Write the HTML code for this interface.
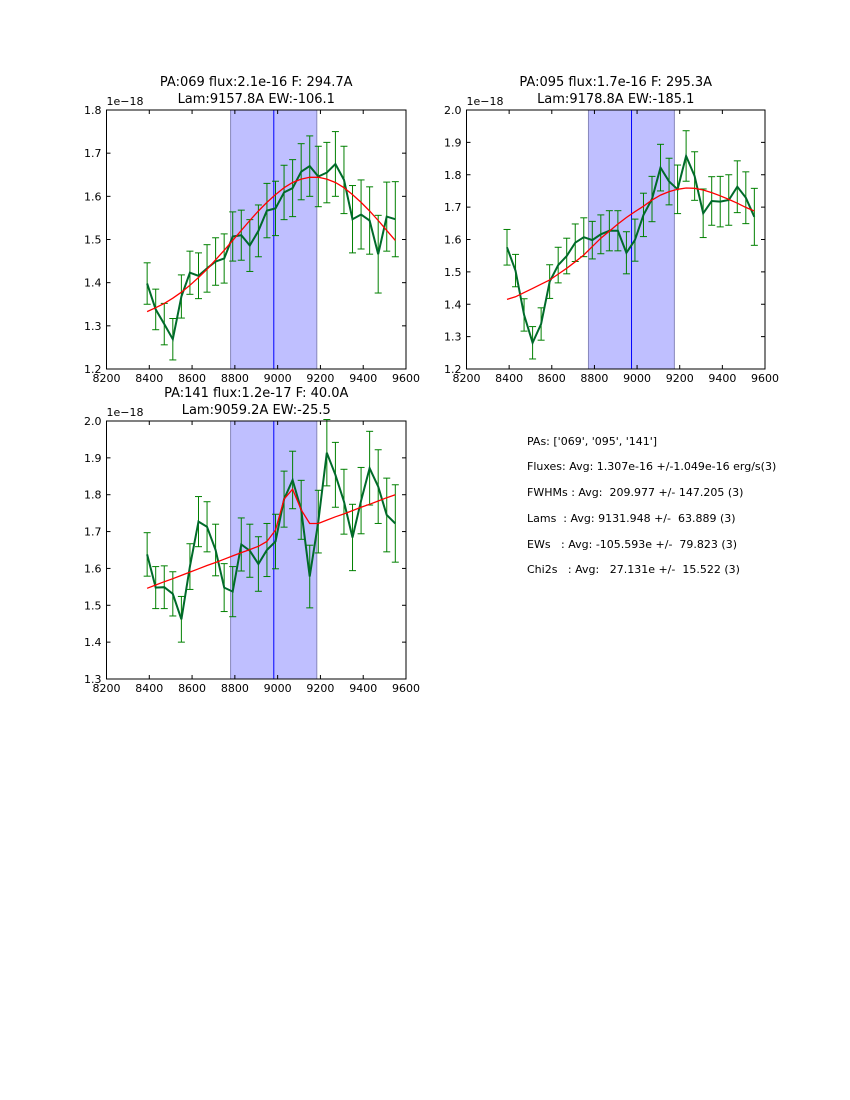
<!DOCTYPE html>
<html><head><meta charset="utf-8"><style>
body{margin:0;background:#fff;}
svg{display:block;font-family:"DejaVu Sans","Liberation Sans",sans-serif;}
.info{font-size:11px;fill:#000;white-space:pre;}
</style></head><body>
<svg id="fig" width="850" height="1100" xmlns="http://www.w3.org/2000/svg">
<rect width="850" height="1100" fill="#fff"/>
<g>
<text class="info" x="527" y="445" xml:space="preserve">PAs: ['069', '095', '141']</text>
<text class="info" x="527" y="470" xml:space="preserve">Fluxes: Avg: 1.307e-16 +/-1.049e-16 erg/s(3)</text>
<text class="info" x="527" y="496" xml:space="preserve">FWHMs : Avg:  209.977 +/- 147.205 (3)</text>
<text class="info" x="527" y="522" xml:space="preserve">Lams  : Avg: 9131.948 +/-  63.889 (3)</text>
<text class="info" x="527" y="548" xml:space="preserve">EWs   : Avg: -105.593e +/-  79.823 (3)</text>
<text class="info" x="527" y="573" xml:space="preserve">Chi2s   : Avg:   27.131e +/-  15.522 (3)</text>
</g>
</svg>
<script>
const xStart = 8390, xStep = 40;
const flux1 = [1.398,1.338,1.304,1.269,1.368,1.423,1.416,1.433,1.449,1.456,1.507,1.510,1.486,1.520,1.567,1.572,1.609,1.619,1.657,1.670,1.646,1.655,1.675,1.638,1.547,1.558,1.544,1.466,1.553,1.547];
const err1 = [0.048,0.047,0.048,0.048,0.05,0.05,0.053,0.055,0.055,0.057,0.057,0.058,0.06,0.06,0.063,0.063,0.063,0.066,0.065,0.07,0.07,0.07,0.075,0.078,0.078,0.08,0.078,0.09,0.08,0.087];
const fit1 = [1.333,1.342,1.352,1.364,1.378,1.394,1.412,1.431,1.453,1.475,1.498,1.521,1.544,1.566,1.586,1.604,1.620,1.632,1.640,1.644,1.644,1.640,1.632,1.620,1.604,1.586,1.566,1.544,1.521,1.498];
const flux2 = [1.576,1.504,1.367,1.281,1.339,1.470,1.521,1.549,1.590,1.607,1.598,1.616,1.627,1.627,1.559,1.598,1.676,1.725,1.822,1.779,1.755,1.858,1.796,1.681,1.719,1.717,1.722,1.763,1.729,1.670];
const err2 = [0.055,0.05,0.05,0.05,0.05,0.052,0.055,0.055,0.058,0.06,0.058,0.06,0.062,0.062,0.065,0.065,0.067,0.07,0.072,0.072,0.075,0.078,0.075,0.075,0.075,0.078,0.078,0.08,0.08,0.088];
const fit2 = [1.415,1.423,1.436,1.449,1.462,1.475,1.493,1.511,1.531,1.552,1.578,1.604,1.626,1.648,1.668,1.686,1.703,1.722,1.737,1.748,1.755,1.759,1.758,1.753,1.745,1.735,1.724,1.712,1.699,1.688];
const flux3 = [1.638,1.548,1.549,1.531,1.462,1.605,1.727,1.713,1.650,1.548,1.537,1.665,1.648,1.612,1.650,1.673,1.788,1.840,1.759,1.578,1.727,1.914,1.854,1.781,1.684,1.784,1.872,1.822,1.745,1.722];
const err3 = [0.059,0.057,0.058,0.06,0.062,0.062,0.068,0.068,0.07,0.065,0.068,0.072,0.072,0.074,0.072,0.074,0.076,0.078,0.08,0.085,0.085,0.09,0.088,0.088,0.09,0.09,0.1,0.1,0.1,0.105];
const fit3 = [1.546,1.555,1.564,1.572,1.581,1.590,1.599,1.608,1.616,1.625,1.634,1.643,1.651,1.660,1.673,1.704,1.788,1.815,1.759,1.722,1.722,1.731,1.740,1.748,1.757,1.766,1.774,1.783,1.792,1.800];
const xTicks = [8200,8400,8600,8800,9000,9200,9400,9600];
const yTicks1 = [1.2,1.3,1.4,1.5,1.6,1.7,1.8];
const yTicks2 = [1.2,1.3,1.4,1.5,1.6,1.7,1.8,1.9,2.0];
const yTicks3 = [1.3,1.4,1.5,1.6,1.7,1.8,1.9,2.0];
const spans = [[8780,9183,8982],[8772,9175,8974],[8780,9183,8982]];
const titles = [["PA:069 flux:2.1e-16 F: 294.7A","Lam:9157.8A EW:-106.1"],["PA:095 flux:1.7e-16 F: 295.3A","Lam:9178.8A EW:-185.1"],["PA:141 flux:1.2e-17 F: 40.0A","Lam:9059.2A EW:-25.5"]];

const NS="http://www.w3.org/2000/svg";
const svg=document.getElementById('fig');
function mk(tag,attrs,parent){const e=document.createElementNS(NS,tag);for(const k in attrs)e.setAttribute(k,attrs[k]);parent.appendChild(e);return e;}

function panel(idx,box,yMin,yMax,yTicks,flux,err,fit){
  const [L,T,R,B]=box;
  const g=mk('g',{},svg);
  
  
  const xs=v=>L+(v-8200)/1400*(R-L);
  const ys=v=>B-(v-yMin)/(yMax-yMin)*(B-T);
  const sp=spans[idx];
  const band=mk('rect',{x:xs(sp[0]),y:T,width:xs(sp[1])-xs(sp[0]),height:B-T,fill:'#bfbfff',stroke:'#8888bb','stroke-width':1},g);
  
  
  const cl=mk('line',{x1:xs(sp[2]),x2:xs(sp[2]),y1:T,y2:B,stroke:'#0000ff','stroke-width':1},g);
  
  
  const eg=mk('g',{stroke:'#008000','stroke-width':1},g);
  
  
  flux.forEach((v,i)=>{const x=xs(xStart+i*xStep);const y1=ys(v-err[i]),y2=ys(v+err[i]);
    mk('line',{x1:x,x2:x,y1:y1,y2:y2},eg);mk('line',{x1:x-3.5,x2:x+3.5,y1:y1,y2:y1},eg);mk('line',{x1:x-3.5,x2:x+3.5,y1:y2,y2:y2},eg);});
  const dp=flux.map((v,i)=>xs(xStart+i*xStep).toFixed(1)+','+ys(v).toFixed(1)).join(' ');
  const dl=mk('polyline',{points:dp,fill:'none',stroke:'#006a2a','stroke-width':2},g);
  
  
  const fp=fit.map((v,i)=>xs(xStart+i*xStep).toFixed(1)+','+ys(v).toFixed(1)).join(' ');
  const fl=mk('polyline',{points:fp,fill:'none',stroke:'#ff0000','stroke-width':1.3},g);
  
  
  const ax=mk('rect',{x:L,y:T,width:R-L,height:B-T,fill:'none',stroke:'#000','stroke-width':1},g);
  
  
  const tg=mk('g',{stroke:'#000','stroke-width':1},g);
  
  
  const lg=mk('g',{'font-size':'11',fill:'#000'},g);
  
  
  xTicks.forEach(t=>{const x=xs(t);mk('line',{x1:x,x2:x,y1:B,y2:B-4},tg);mk('line',{x1:x,x2:x,y1:T,y2:T+4},tg);
    const tx=mk('text',{x:x,y:B+13,'text-anchor':'middle'},lg);tx.textContent=t;});
  yTicks.forEach(t=>{const y=ys(t);mk('line',{x1:L,x2:L+4,y1:y,y2:y},tg);mk('line',{x1:R,x2:R-4,y1:y,y2:y},tg);
    const tx=mk('text',{x:L-5,y:y+4,'text-anchor':'end'},lg);tx.textContent=t.toFixed(1);});
  const off=mk('text',{x:L,y:T-5,'font-size':'11'},g);off.textContent='1e\u221218';
  
  
  const cx=(L+R)/2;
  const t1=mk('text',{x:cx,y:T-24,'font-size':'13','text-anchor':'middle'},g);t1.textContent=titles[idx][0];
  
  
  const t2=mk('text',{x:cx,y:T-7,'font-size':'13','text-anchor':'middle'},g);t2.textContent=titles[idx][1];
  
  
}
panel(0,[106.5,110,406,369],1.2,1.8,yTicks1,flux1,err1,fit1);
panel(1,[466.5,110,765,369],1.2,2.0,yTicks2,flux2,err2,fit2);
panel(2,[106.5,421,406,679],1.3,2.0,yTicks3,flux3,err3,fit3);
</script>
</body></html>
